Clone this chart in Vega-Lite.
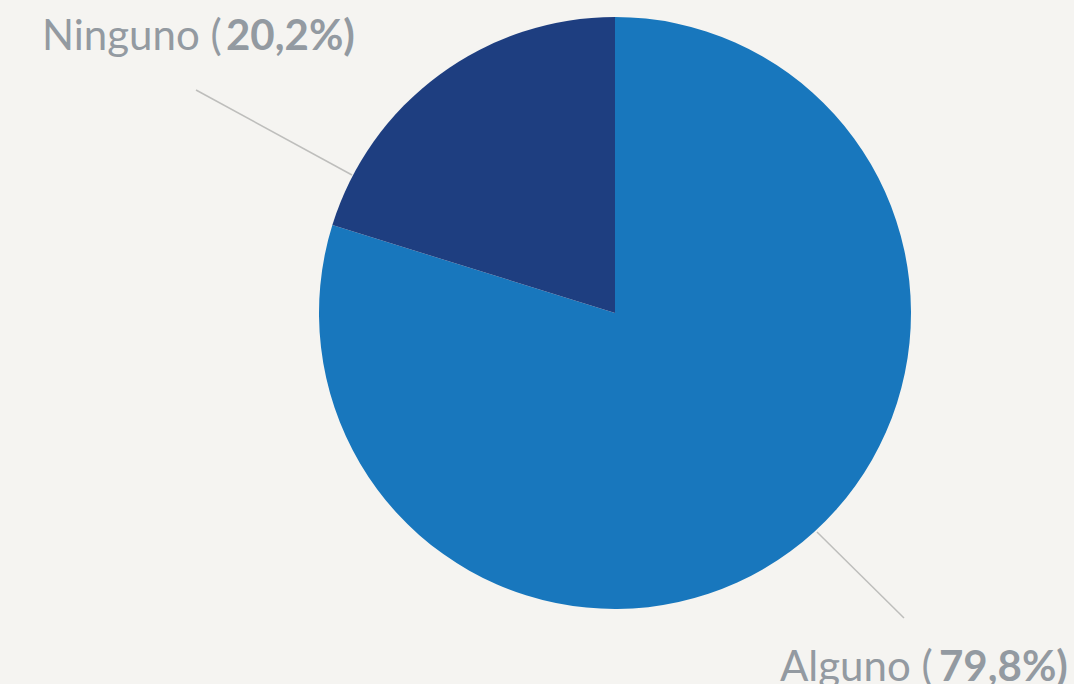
{
  "$schema": "https://vega.github.io/schema/vega-lite/v6.json",
  "width": 918,
  "height": 626,
  "autosize": "none",
  "padding": {"left": 156, "top": 0, "right": 0, "bottom": 58},
  "background": "#F5F4F1",
  "config": {"view": {"stroke": null}, "text": {"font": "Lato"}},
  "data": {"values": [
    {"categoria": "Alguno", "porcentaje": 79.8},
    {"categoria": "Ninguno", "porcentaje": 20.2}
  ]},
  "layer": [
    {
      "mark": {"type": "arc", "outerRadius": 296},
      "encoding": {
        "theta": {"field": "porcentaje", "type": "quantitative", "stack": true},
        "color": {"field": "categoria", "type": "nominal", "legend": null,
          "scale": {"domain": ["Alguno", "Ninguno"], "range": ["#1877BD", "#1E3E80"]}},
        "order": {"field": "categoria", "sort": "ascending"}
      }
    },
    {
      "transform": [{"filter": "datum.categoria == 'Ninguno'"}],
      "mark": {"type": "rule", "stroke": "#BEBEBC", "strokeWidth": 1.5},
      "encoding": {
        "x": {"datum": -1.4155, "type": "quantitative", "axis": null, "scale": {"domain": [-1.5507, 1.5507], "nice": false, "zero": false}},
        "y": {"datum": 0.7534, "type": "quantitative", "axis": null, "scale": {"domain": [-1.0574, 1.0574], "nice": false, "zero": false}},
        "x2": {"datum": -0.8885},
        "y2": {"datum": 0.4662}
      }
    },
    {
      "transform": [{"filter": "datum.categoria == 'Alguno'"}],
      "mark": {"type": "rule", "stroke": "#BEBEBC", "strokeWidth": 1.5},
      "encoding": {
        "x": {"datum": 0.6824, "type": "quantitative", "axis": null},
        "y": {"datum": -0.7399, "type": "quantitative", "axis": null},
        "x2": {"datum": 0.9764},
        "y2": {"datum": -1.0304}
      }
    },
    {
      "transform": [{"filter": "datum.categoria == 'Ninguno'"}],
      "mark": {"type": "text", "align": "left", "baseline": "alphabetic", "fontSize": 42, "fontWeight": "normal", "color": "#939AA1"},
      "encoding": {
        "x": {"datum": -1.9358, "type": "quantitative", "axis": null},
        "y": {"datum": 0.8885, "type": "quantitative", "axis": null},
        "text": {"value": "Ninguno ("}
      }
    },
    {
      "transform": [{"filter": "datum.categoria == 'Ninguno'"}],
      "mark": {"type": "text", "align": "left", "baseline": "alphabetic", "fontSize": 42, "fontWeight": "bold", "color": "#939AA1"},
      "encoding": {
        "x": {"datum": -1.3142, "type": "quantitative", "axis": null},
        "y": {"datum": 0.8885, "type": "quantitative", "axis": null},
        "text": {"value": "20,2%)"}
      }
    },
    {
      "transform": [{"filter": "datum.categoria == 'Alguno'"}],
      "mark": {"type": "text", "align": "left", "baseline": "alphabetic", "fontSize": 42, "fontWeight": "normal", "color": "#939AA1"},
      "encoding": {
        "x": {"datum": 0.5574, "type": "quantitative", "axis": null},
        "y": {"datum": -1.2432, "type": "quantitative", "axis": null},
        "text": {"value": "Alguno ("}
      }
    },
    {
      "transform": [{"filter": "datum.categoria == 'Alguno'"}],
      "mark": {"type": "text", "align": "left", "baseline": "alphabetic", "fontSize": 42, "fontWeight": "bold", "color": "#939AA1"},
      "encoding": {
        "x": {"datum": 1.0946, "type": "quantitative", "axis": null},
        "y": {"datum": -1.2432, "type": "quantitative", "axis": null},
        "text": {"value": "79,8%)"}
      }
    }
  ]
}
